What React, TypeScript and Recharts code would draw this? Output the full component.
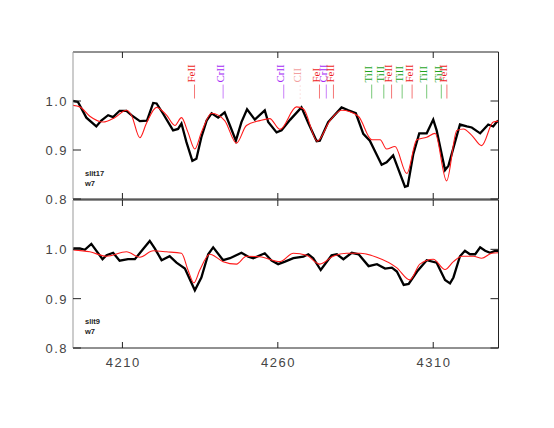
import { ComposedChart, Line, Scatter, XAxis, YAxis } from "recharts";

// wavelength (Å) and normalised flux
const slit17Obs: [number, number][] = [
  [4194.1, 1.0], [4195.7, 0.998], [4198.4, 0.966], [4201.6, 0.948], [4203.2, 0.96],
  [4205.4, 0.971], [4207.0, 0.967], [4209.1, 0.98], [4211.3, 0.98], [4212.9, 0.971],
  [4215.6, 0.959], [4217.9, 0.96], [4219.9, 0.996], [4221.0, 0.995], [4223.1, 0.974],
  [4226.3, 0.94], [4227.9, 0.943], [4229.0, 0.954], [4230.6, 0.916], [4232.5, 0.878],
  [4233.8, 0.882], [4235.4, 0.926], [4237.1, 0.96], [4238.7, 0.975], [4240.8, 0.966],
  [4242.9, 0.977], [4244.6, 0.95], [4246.5, 0.919], [4248.3, 0.957], [4250.1, 0.983],
  [4252.6, 0.962], [4255.8, 0.981], [4256.9, 0.957], [4259.6, 0.936], [4261.2, 0.94],
  [4264.0, 0.962], [4267.6, 0.987], [4269.8, 0.955], [4272.5, 0.918], [4273.5, 0.919],
  [4276.2, 0.957], [4280.5, 0.987], [4282.7, 0.981], [4285.1, 0.975], [4287.5, 0.933],
  [4289.6, 0.919], [4293.4, 0.87], [4295.0, 0.875], [4297.1, 0.889], [4300.9, 0.825],
  [4301.8, 0.827], [4303.6, 0.892], [4305.5, 0.934], [4307.9, 0.934], [4310.0, 0.962],
  [4311.1, 0.94], [4313.8, 0.859], [4314.9, 0.868], [4318.6, 0.952], [4320.8, 0.948],
  [4322.4, 0.946], [4325.1, 0.934], [4327.7, 0.952], [4329.3, 0.948], [4330.4, 0.957],
  [4330.9, 0.96],
];

const slit17Model: [number, number][] = [
  [4194.1, 0.991], [4196.3, 0.988], [4199.5, 0.969], [4203.8, 0.957], [4207.5, 0.966],
  [4211.3, 0.981], [4212.9, 0.971], [4215.6, 0.925], [4217.7, 0.954], [4221.0, 0.987],
  [4224.2, 0.971], [4226.9, 0.95], [4229.0, 0.966], [4231.1, 0.936], [4233.3, 0.902],
  [4235.4, 0.936], [4238.7, 0.975], [4242.9, 0.96], [4246.7, 0.914], [4249.9, 0.95],
  [4254.2, 0.96], [4257.4, 0.964], [4260.7, 0.942], [4266.0, 0.988], [4268.2, 0.984],
  [4272.7, 0.918], [4276.8, 0.96], [4280.5, 0.981], [4285.9, 0.969], [4290.2, 0.921],
  [4292.9, 0.921], [4295.0, 0.902], [4297.7, 0.907], [4301.5, 0.852], [4304.7, 0.921],
  [4307.9, 0.926], [4310.6, 0.934], [4314.3, 0.837], [4317.6, 0.94], [4319.7, 0.943],
  [4322.4, 0.93], [4325.6, 0.909], [4329.3, 0.957], [4330.9, 0.959],
];

const slit9Obs: [number, number][] = [
  [4194.1, 1.002], [4196.3, 1.002], [4197.9, 0.999], [4200.0, 1.011], [4203.6, 0.98],
  [4204.9, 0.988], [4207.0, 0.993], [4209.1, 0.977], [4211.8, 0.98], [4214.0, 0.98],
  [4216.6, 1.0], [4218.8, 1.017], [4220.4, 1.002], [4222.6, 0.978], [4225.2, 0.986],
  [4227.4, 0.973], [4230.1, 0.961], [4233.3, 0.917], [4235.4, 0.943], [4237.6, 0.99],
  [4239.2, 1.004], [4242.4, 0.978], [4244.6, 0.982], [4248.3, 0.993], [4250.5, 0.985],
  [4252.1, 0.982], [4255.8, 0.992], [4258.0, 0.977], [4260.1, 0.97], [4262.3, 0.975],
  [4265.0, 0.982], [4268.2, 0.985], [4269.8, 0.99], [4271.4, 0.982], [4273.8, 0.958],
  [4277.3, 0.988], [4279.0, 0.99], [4281.1, 0.98], [4283.8, 0.993], [4286.0, 0.99],
  [4289.2, 0.966], [4291.9, 0.97], [4294.5, 0.961], [4296.7, 0.963], [4298.3, 0.955],
  [4300.5, 0.928], [4302.1, 0.93], [4304.8, 0.955], [4307.9, 0.978], [4311.1, 0.973],
  [4313.8, 0.938], [4315.4, 0.931], [4316.5, 0.943], [4318.6, 0.986], [4320.2, 0.997],
  [4321.8, 0.99], [4323.5, 0.99], [4325.1, 1.004], [4326.7, 0.997], [4328.3, 0.993],
  [4329.9, 0.997], [4330.9, 0.997],
];

const slit9Model: [number, number][] = [
  [4194.1, 0.999], [4199.5, 0.995], [4204.9, 0.986], [4211.3, 0.995], [4215.6, 0.984],
  [4219.9, 0.997], [4224.2, 0.995], [4229.0, 0.992], [4231.1, 0.958], [4233.0, 0.932],
  [4234.9, 0.958], [4238.1, 0.99], [4242.4, 0.975], [4246.7, 0.97], [4249.9, 0.986],
  [4254.2, 0.985], [4260.7, 0.975], [4265.0, 0.992], [4269.2, 0.988], [4273.5, 0.97],
  [4277.8, 0.986], [4282.1, 0.992], [4286.4, 0.992], [4291.8, 0.984], [4298.2, 0.963],
  [4302.5, 0.938], [4305.7, 0.97], [4310.0, 0.98], [4313.8, 0.959], [4316.5, 0.975],
  [4319.2, 0.986], [4322.9, 0.986], [4325.6, 0.982], [4328.8, 0.992], [4330.9, 0.993],
];

// identified lines
const lineIds: [string, number][] = [
  ["FeII", 4233.2], ["CrII", 4242.4], ["CrII", 4261.9], ["CII", 4267.2],
  ["FeI", 4273.4], ["CrII", 4275.6], ["FeII", 4277.9], ["TiII", 4290.2],
  ["TiII", 4294.1], ["FeII", 4296.6], ["TiII", 4300.0], ["FeII", 4303.2],
  ["TiII", 4307.9], ["TiII", 4312.6], ["FeII", 4314.4],
];

const waveTicks = [4210, 4260, 4310];
const fluxTicks = [0.8, 0.9, 1.0];

const ionColor: Record<string, string> = {
  FeII: "#ee1c1c",
  FeI: "#ee1c1c",
  CrII: "#a52bf5",
  CII: "#f2a0a0",
  TiII: "#1fa51f",
};

const sans = "'Liberation Sans', Arial, sans-serif";
const serif = "'Liberation Serif', 'Times New Roman', serif";
const axisColor = "#222";

const toPts = (arr: [number, number][]) => arr.map(([w, f]) => ({ w, f }));

const xTick = (dir: number, labels: boolean) => (p: any) => (
  <g>
    <line x1={p.x} x2={p.x} y1={p.y} y2={p.y + dir * 6} stroke={axisColor} />
    {labels && (
      <text x={p.x + 0.75} y={p.y + 19} textAnchor="middle" fontSize={13}
        letterSpacing={1.5} fill="#444" fontFamily={sans}>
        {p.payload.value}
      </text>
    )}
  </g>
);

const yTick = (dir: number, labels: boolean) => (p: any) => (
  <g>
    <line x1={p.x} x2={p.x + dir * 8} y1={p.y} y2={p.y} stroke={axisColor} />
    {labels && (
      <text x={p.x - 5} y={p.y + 5} textAnchor="end" fontSize={13}
        letterSpacing={1.5} fill="#444" fontFamily={sans}>
        {Number(p.payload.value).toFixed(1)}
      </text>
    )}
  </g>
);

const LineMark = (p: any) => {
  const c = ionColor[p.payload.ion];
  const dotted = p.payload.ion === "CII";
  return (
    <g>
      <line x1={p.cx} x2={p.cx} y1={p.cy} y2={p.cy - 14} stroke={c}
        strokeOpacity={0.6} strokeDasharray={dotted ? "1 3" : undefined} />
      <text transform={`translate(${p.cx + 0.5},${p.cy - 16}) rotate(-90)`}
        fontSize={11} fill={c} fontFamily={serif}>
        {p.payload.ion}
      </text>
    </g>
  );
};

interface PanelProps {
  obs: [number, number][];
  model: [number, number][];
  height: number;
  margin: { top: number; right: number; bottom: number; left: number };
  marks?: boolean;
  waveLabels?: boolean;
}

function Panel({ obs, model, height, margin, marks, waveLabels }: PanelProps) {
  const markData = lineIds.map(([ion, w]) => ({ ion, w, f: 1.005 }));
  // axes take 1px each, so the margins are reduced by one
  const m = {
    top: margin.top - 1,
    right: margin.right - 1,
    bottom: margin.bottom - 1,
    left: margin.left - 1,
  };
  return (
    <ComposedChart width={554} height={height} margin={m}>
      <XAxis dataKey="w" type="number" domain={[4194.1, 4331]} allowDataOverflow
        ticks={waveTicks} height={1} tickSize={0} tickMargin={0}
        stroke={axisColor} tick={xTick(-1, !!waveLabels)} interval={0} />
      <XAxis xAxisId="t" dataKey="w" orientation="top" type="number" domain={[4194.1, 4331]}
        allowDataOverflow ticks={waveTicks} height={1} tickSize={0} tickMargin={0}
        stroke={axisColor} tick={xTick(1, false)} interval={0} />
      <YAxis dataKey="f" type="number" domain={[0.8, 1.1]} allowDataOverflow
        ticks={fluxTicks} width={1} tickSize={0} tickMargin={0}
        stroke="#999" tick={yTick(1, true)} interval={0} />
      <YAxis yAxisId="r" dataKey="f" orientation="right" type="number" domain={[0.8, 1.1]}
        allowDataOverflow ticks={fluxTicks} width={1} tickSize={0} tickMargin={0}
        stroke={axisColor} tick={yTick(-1, false)} interval={0} />
      <Line data={toPts(obs)} dataKey="f" type="linear" stroke="#000"
        strokeWidth={2.3} dot={false} isAnimationActive={false} />
      <Line data={toPts(model)} dataKey="f" type="monotone" stroke="#ff1a1a"
        strokeWidth={1.1} dot={false} isAnimationActive={false} />
      {marks && (
        <Scatter data={markData} dataKey="f" shape={LineMark}
          isAnimationActive={false} />
      )}
    </ComposedChart>
  );
}

export default function App() {
  return (
    <div style={{ position: "absolute", left: 0, top: 0, width: 554, height: 428, background: "#fff" }}>
      <div style={{ position: "absolute", left: 0, top: 199 }}>
        <Panel obs={slit9Obs} model={slit9Model} height={229} waveLabels
          margin={{ top: 1, right: 55.5, bottom: 80, left: 73 }} />
      </div>
      <div style={{ position: "absolute", left: 0, top: 0 }}>
        <Panel obs={slit17Obs} model={slit17Model} height={212} marks
          margin={{ top: 52, right: 55.5, bottom: 13, left: 73 }} />
      </div>
      <svg width={554} height={428} style={{ position: "absolute", left: 0, top: 0, pointerEvents: "none" }}>
        <g fontFamily={sans} fontSize={7.5} fontWeight="bold" fill="#222">
          <text x={85} y={176}>slit17</text>
          <text x={85} y={186}>w7</text>
          <text x={85} y={324}>slit9</text>
          <text x={85} y={334}>w7</text>
        </g>
      </svg>
    </div>
  );
}
